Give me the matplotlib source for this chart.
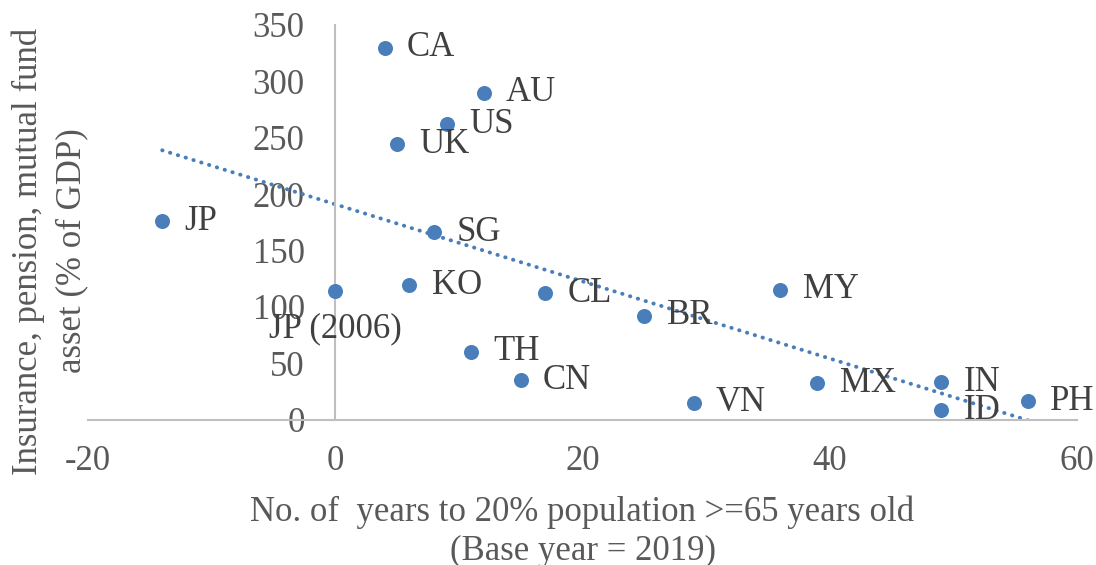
import numpy as np
import matplotlib
matplotlib.use("Agg")
import matplotlib.pyplot as plt

plt.rcParams["font.family"] = ["Liberation Serif", "DejaVu Serif"]
plt.rcParams["axes.unicode_minus"] = False

# years until 20% of population is >= 65 (base year 2019)
countries = ["CA", "AU", "US", "UK", "JP", "SG", "JP (2006)", "KO", "CL", "BR",
             "MY", "TH", "CN", "MX", "IN", "VN", "ID", "PH"]
years_to_aged = [4, 12, 9, 5, -14, 8, 0, 6, 17, 25,
                 36, 11, 15, 39, 49, 29, 49, 56]
# insurance, pension, mutual fund assets, % of GDP
assets_pct_gdp = [330, 290, 262, 244, 176, 166, 114, 119, 112, 92,
                  115, 60, 35, 32, 33, 15, 8, 16]

dot_color = "#4a7ebb"
text_color = "#404040"
tick_color = "#595959"
axis_color = "#bfbfbf"
fs = 25

fig = plt.figure(figsize=(10.96, 5.65), dpi=100)
ax = fig.add_axes([0.0803, 0.2575, 0.9024, 0.6983])

x = np.array(years_to_aged, dtype=float)
y = np.array(assets_pct_gdp, dtype=float)

ax.scatter(x, y, s=117, color=dot_color, zorder=3, linewidths=0)

# linear trendline over the data range
slope, intercept = np.polyfit(x, y, 1)
xx = np.array([x.min(), x.max()])
ax.plot(xx, slope * xx + intercept, color=dot_color, lw=2.8,
        linestyle=(0, (0.1, 2.0)), dash_capstyle="round", zorder=2)

for name, xi, yi in zip(countries, x, y):
    if name == "JP (2006)":
        ax.annotate(name, (xi, yi), xytext=(0, -27), textcoords="offset points",
                    ha="center", va="center", fontsize=fs, color=text_color)
    else:
        ax.annotate(name, (xi, yi), xytext=(16, 0), textcoords="offset points",
                    ha="left", va="center", fontsize=fs, color=text_color)

ax.set_xlim(-20, 60)
ax.set_ylim(0, 350)
ax.set_xticks(np.arange(-20, 61, 20))
ax.set_yticks(np.arange(0, 351, 50))

for side in ["top", "right"]:
    ax.spines[side].set_visible(False)
ax.spines["left"].set_position(("data", 0))
ax.spines["left"].set_color(axis_color)
ax.spines["bottom"].set_color(axis_color)
ax.spines["left"].set_linewidth(1.5)
ax.spines["bottom"].set_linewidth(1.5)

ax.tick_params(axis="both", length=0, labelsize=fs, labelcolor=tick_color)
ax.tick_params(axis="x", pad=18)
ax.tick_params(axis="y", pad=22)

ax.set_xlabel("No. of  years to 20% population >=65 years old\n(Base year = 2019)",
              fontsize=fs, color=tick_color, labelpad=13, linespacing=1.25)
fig.text(50 / 1096, 1 - 251 / 565,
         "Insurance, pension, mutual fund\nasset (% of GDP)",
         rotation=90, ha="center", va="center", multialignment="center",
         fontsize=fs, color=tick_color, linespacing=1.4)

fig.savefig("out.png", dpi=100)
